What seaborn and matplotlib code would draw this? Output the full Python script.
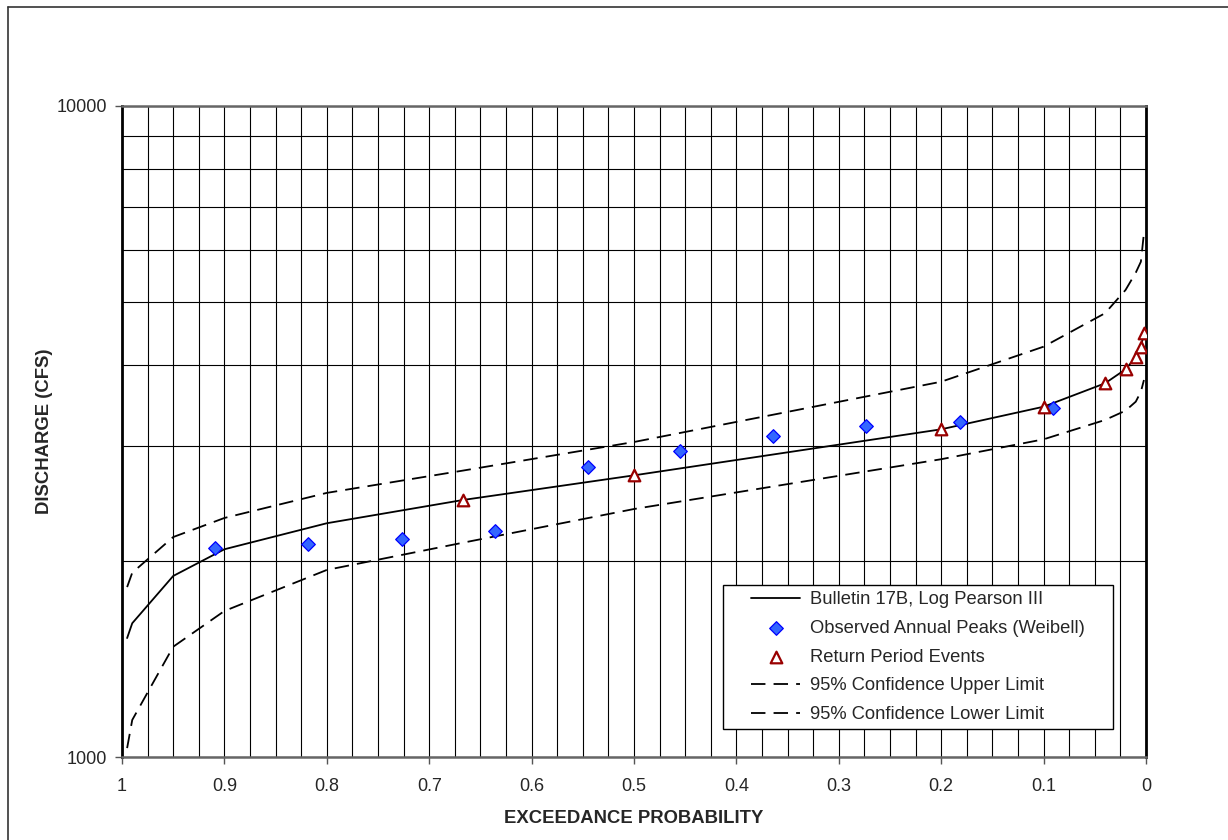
import numpy as np
import pandas as pd
import matplotlib
matplotlib.use("Agg")
import matplotlib.pyplot as plt
import seaborn as sns
from matplotlib.ticker import FixedLocator, FuncFormatter, MultipleLocator, NullFormatter
from matplotlib.lines import Line2D
from matplotlib.collections import PathCollection
from matplotlib.legend_handler import HandlerLine2D, HandlerPathCollection

# ---------------- data ----------------
curve_prob = [0.995, 0.99, 0.95, 0.9, 0.8, 0.667, 0.5, 0.2, 0.1, 0.04, 0.02, 0.01, 0.005, 0.002]
lp3_flow = [1523, 1605, 1897, 2085, 2286, 2482, 2708, 3187, 3452, 3750, 3940, 4111, 4269, 4476]
upper_flow = [1824, 1919, 2177, 2329, 2545, 2754, 3047, 3771, 4269, 4805, 5216, 5546, 5765, 6382]
lower_flow = [1032, 1140, 1477, 1676, 1938, 2134, 2404, 2867, 3076, 3294, 3404, 3514, 3640, 3794]

obs_prob = [0.909, 0.818, 0.727, 0.636, 0.545, 0.455, 0.364, 0.273, 0.182, 0.091]
obs_flow = [2092, 2124, 2165, 2225, 2790, 2954, 3110, 3221, 3274, 3433]

rp_prob = [0.667, 0.5, 0.2, 0.1, 0.04, 0.02, 0.01, 0.005, 0.002]
rp_flow = [2482, 2708, 3187, 3452, 3750, 3940, 4111, 4269, 4476]

x_ticks = [1.0, 0.9, 0.8, 0.7, 0.6, 0.5, 0.4, 0.3, 0.2, 0.1, 0.0]
y_major = [1000, 10000]
y_minor = [2000, 3000, 4000, 5000, 6000, 7000, 8000, 9000]

labels = ["Bulletin 17B, Log Pearson III",
          "Observed Annual Peaks (Weibell)",
          "Return Period Events",
          "95% Confidence Upper Limit",
          "95% Confidence Lower Limit"]

# ---------------- style ----------------
sns.set_style("white")
plt.rcParams['font.family'] = ['Liberation Sans', 'DejaVu Sans']

fig = plt.figure(figsize=(12.28, 8.4), dpi=100)
ax = fig.add_axes([122 / 1228, 83 / 840, 1024 / 1228, 651 / 840])

curves = pd.DataFrame({"p": curve_prob, "lp3": lp3_flow, "up": upper_flow, "lo": lower_flow})
obs = pd.DataFrame({"p": obs_prob, "q": obs_flow})
rp = pd.DataFrame({"p": rp_prob, "q": rp_flow})

lw = 1.3
sns.lineplot(data=curves, x="p", y="lp3", ax=ax, color="black", lw=lw,
             sort=False, estimator=None, label=labels[0], zorder=4)
sns.scatterplot(data=obs, x="p", y="q", ax=ax, marker="D", s=48,
                color="#3366FF", edgecolor="#0000FF", linewidth=0.9,
                label=labels[1], zorder=6)
sns.scatterplot(data=rp, x="p", y="q", ax=ax, marker="^", s=70,
                facecolor="white", edgecolor="#990000", linewidth=1.6,
                label=labels[2], zorder=6)
sns.lineplot(data=curves, x="p", y="up", ax=ax, color="black", lw=lw,
             linestyle=(0, (8, 4.5)), sort=False, estimator=None,
             label=labels[3], zorder=4)
sns.lineplot(data=curves, x="p", y="lo", ax=ax, color="black", lw=lw,
             linestyle=(0, (8, 4.5)), sort=False, estimator=None,
             label=labels[4], zorder=4)

# ---------------- axes ----------------
ax.set_yscale("log")
ax.set_ylim(1000, 10000)
ax.set_xlim(1, 0)

ax.yaxis.set_major_locator(FixedLocator(y_major))
ax.yaxis.set_major_formatter(FuncFormatter(lambda v, pos: f"{int(round(v))}"))
ax.yaxis.set_minor_locator(FixedLocator(y_minor))
ax.yaxis.set_minor_formatter(NullFormatter())

ax.xaxis.set_major_locator(FixedLocator(x_ticks))
ax.xaxis.set_major_formatter(FuncFormatter(lambda v, pos: f"{v:g}"))
ax.xaxis.set_minor_locator(MultipleLocator(0.025))

ax.grid(True, which="both", color="black", lw=0.8)
ax.set_axisbelow(True)

ax.tick_params(axis="both", which="major", direction="out", length=5,
               width=1, color="#555555", labelsize=13, bottom=True, left=True)
ax.tick_params(axis="x", which="major", pad=10)
ax.tick_params(axis="y", which="major", pad=5.5)
ax.tick_params(axis="both", which="minor", length=0)

for side in ["left", "right"]:
    ax.spines[side].set_color("black")
    ax.spines[side].set_linewidth(2)
for side in ["top", "bottom"]:
    ax.spines[side].set_color("#666666")
    ax.spines[side].set_linewidth(1.8)

ax.set_xlabel("EXCEEDANCE PROBABILITY", fontsize=13.3, fontweight="bold", labelpad=11)
ax.set_ylabel("DISCHARGE (CFS)", fontsize=13.3, fontweight="bold", labelpad=3)

# ---------------- legend ----------------
handles, labs = ax.get_legend_handles_labels()
order = [labs.index(l) for l in labels]
handles = [handles[i] for i in order]
leg_x0 = (723 - 122) / 1024
leg_y0 = (757 - 729) / 651
leg_w = 390 / 1024
leg_h = 144 / 651
leg = ax.legend(handles, labels, loc="lower left",
                bbox_to_anchor=(leg_x0, leg_y0, leg_w, leg_h), mode="expand",
                borderaxespad=0, frameon=True, fancybox=False, edgecolor="black",
                framealpha=1, fontsize=13.2, handlelength=3.9, handletextpad=0.55,
                labelspacing=0.64, borderpad=0.32, scatterpoints=1,
                handler_map={Line2D: HandlerLine2D(xpad=1.2),
                             PathCollection: HandlerPathCollection(xpad=1.2)})
leg.get_frame().set_linewidth(1.0)
leg.set_zorder(10)

# figure border (top and left visible in reference)
fig.add_artist(Line2D([8 / 1228, 1], [1 - 7 / 840, 1 - 7 / 840], color="#333333", lw=1.2,
                      transform=fig.transFigure))
fig.add_artist(Line2D([8 / 1228, 8 / 1228], [0, 1 - 7 / 840], color="#333333", lw=1.2,
                      transform=fig.transFigure))

fig.savefig("out.png", dpi=100)
